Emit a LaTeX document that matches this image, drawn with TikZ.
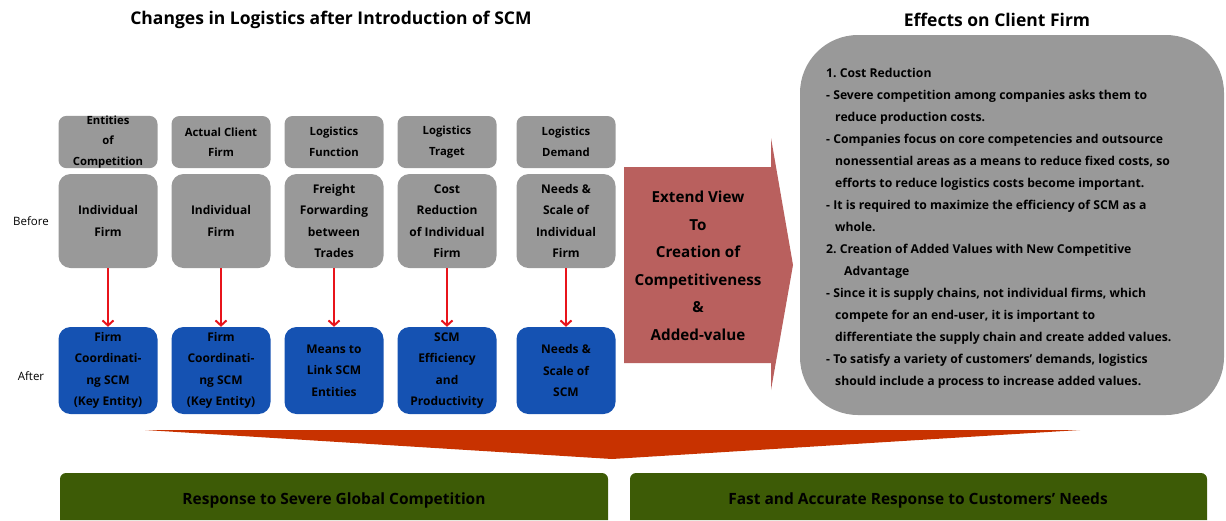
\documentclass[tikz,border=0pt]{standalone}
\usepackage{fontspec}
\setmainfont{Open Sans}
\usetikzlibrary{positioning,arrows.meta}
\tikzset{>=latex}
\definecolor{boxgray}{HTML}{999999}
\definecolor{afterblue}{HTML}{1552B2}
\definecolor{viewred}{HTML}{B9605E}
\definecolor{flowred}{HTML}{C83200}
\definecolor{resultgreen}{HTML}{3D5B06}
\definecolor{arrowred}{HTML}{E8141B}
\newcommand{\hang}{\hspace*{9pt}}

\tikzset{
  headbox/.style={fill=boxgray, rounded corners=8pt, minimum width=99pt,
    minimum height=52pt, inner sep=0pt, align=center,
    font=\bfseries\fontsize{11.3}{20.5}\selectfont},
  beforebox/.style={headbox, minimum height=94pt, rounded corners=12pt,
    font=\bfseries\fontsize{12}{21.5}\selectfont},
  afterbox/.style={beforebox, fill=afterblue, minimum height=87pt},
  rowlabel/.style={font=\fontsize{11.5}{13}\selectfont},
  title/.style={font=\bfseries\fontsize{17.5}{19}\selectfont},
  change/.style={-{Straight Barb[length=5pt,width=11pt]}, line width=2pt, arrowred},
}

\begin{document}
\begin{tikzpicture}[x=1pt, y=-1pt]
    \useasboundingbox (0,0) rectangle (1226,520);
    % titles
    \node[title] (t1) at (331,20) {Changes in Logistics after Introduction of SCM};
    \node[title] (t2) at (997,20) {Effects on Client Firm};
    % rows
    \node[rowlabel] (lb) at (31,221) {Before};
    \node[rowlabel] (la) at (31,376) {After};
    \node[headbox] (h1) at (108,142) {Entities\\of\\Competition};
    \node[headbox] (h2) at (221,142) {Actual Client\\Firm};
    \node[headbox] (h3) at (334,142) {Logistics\\Function};
    \node[headbox] (h4) at (447,142) {Logistics\\Traget};
    \node[headbox] (h5) at (566,142) {Logistics\\Demand};
    \node[beforebox] (b1) at (108,221) {Individual\\Firm};
    \node[beforebox] (b2) at (221,221) {Individual\\Firm};
    \node[beforebox] (b3) at (334,221) {Freight\\Forwarding\\between\\Trades};
    \node[beforebox] (b4) at (447,221) {Cost\\Reduction\\of Individual\\Firm};
    \node[beforebox] (b5) at (566,221) {Needs \&\\Scale of\\Individual\\Firm};
    \node[afterbox] (a1) at (108,370.5) {Firm\\Coordinati-\\ng SCM\\(Key Entity)};
    \node[afterbox] (a2) at (221,370.5) {Firm\\Coordinati-\\ng SCM\\(Key Entity)};
    \node[afterbox] (a3) at (334,370.5) {Means to\\Link SCM\\Entities};
    \node[afterbox] (a4) at (447,370.5) {SCM\\Efficiency\\and\\Productivity};
    \node[afterbox] (a5) at (566,370.5) {Needs \&\\Scale of\\SCM};
    \foreach \i in {1,...,5}
      \draw[change] (b\i) -- (a\i);
    % extend view arrow
    \fill[viewred] (624,167) -- (771,167) -- (771,138) -- (793,265)
      -- (771,390) -- (771,363) -- (624,363) -- cycle;
    \node[align=center, font=\bfseries\fontsize{15.2}{27.5}\selectfont] (view) at (698,266)
      {Extend View\\To\\Creation of\\Competitiveness\\\&\\Added-value};
    % effects
    \fill[boxgray, rounded corners=58pt] (800,35) rectangle (1224,415);
    \node[anchor=north west, align=left, inner sep=0pt,
      font=\bfseries\fontsize{12.2}{22}\selectfont] (effects) at (826,68.5)
      {1.\ Cost Reduction\\
       - Severe competition among companies asks them to\\
       \hang reduce production costs.\\
       - Companies focus on core competencies and outsource\\
       \hang nonessential areas as a means to reduce fixed costs, so\\
       \hang efforts to reduce logistics costs become important.\\
       - It is required to maximize the efficiency of SCM as a\\
       \hang whole.\\
       2.\ Creation of Added Values with New Competitive\\
       \hang\hang Advantage\\
       - Since it is supply chains, not individual firms, which\\
       \hang compete for an end-user, it is important to\\
       \hang differentiate the supply chain and create added values.\\
       - To satisfy a variety of customers' demands, logistics\\
       \hang should include a process to increase added values.};
    % result
    \fill[flowred] (145,430) -- (1080,430) -- (612,459) -- cycle;
    \fill[resultgreen] (60,520) {[rounded corners=6pt] -- (60,473) -- (608,473)} -- (608,520) -- cycle;
    \fill[resultgreen] (630,520) {[rounded corners=6pt] -- (630,473) -- (1207,473)} -- (1207,520) -- cycle;
    \node[font=\bfseries\fontsize{15.5}{17}\selectfont] (r1) at (334,500) {Response to Severe Global Competition};
    \node[font=\bfseries\fontsize{15.5}{17}\selectfont] (r2) at (918,500) {Fast and Accurate Response to Customers' Needs};
\end{tikzpicture}
\end{document}
